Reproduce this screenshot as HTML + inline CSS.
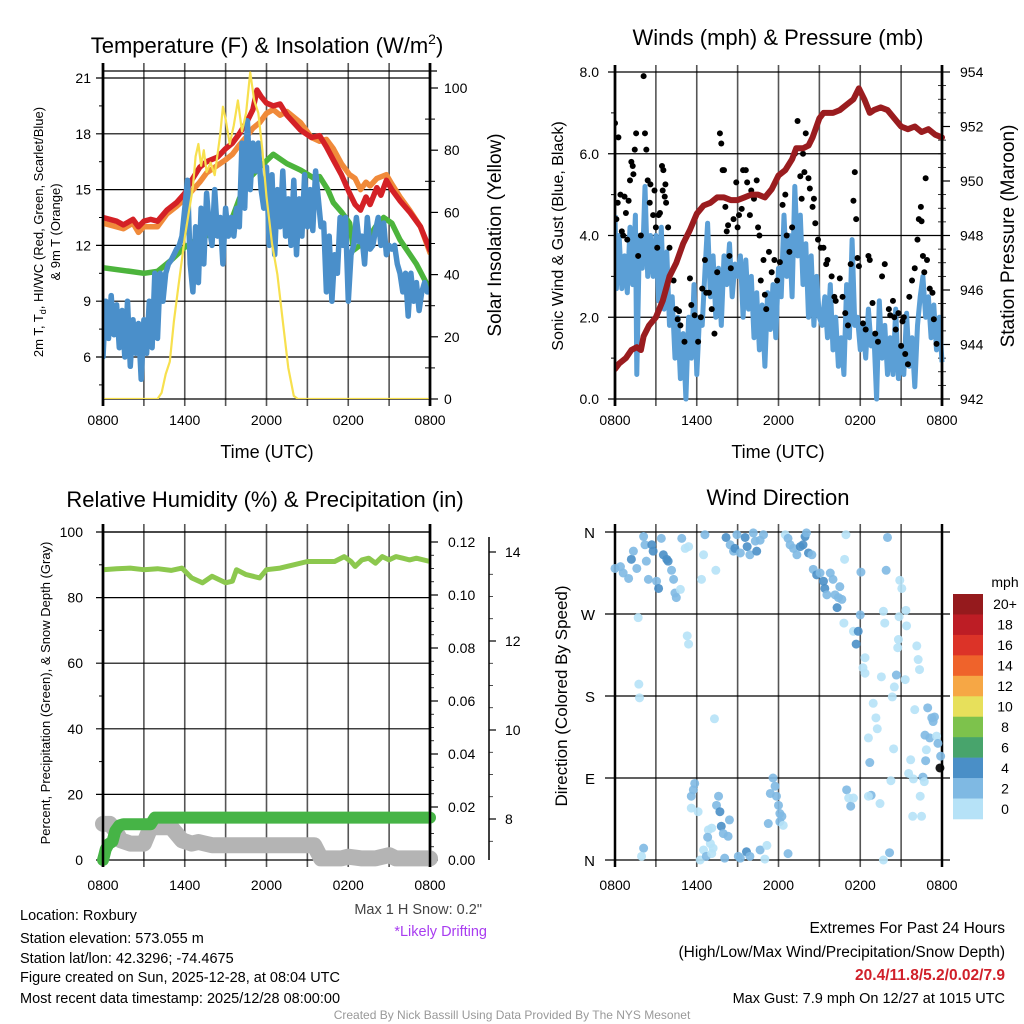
<!DOCTYPE html>
<html><head><meta charset="utf-8"><style>
body{margin:0;background:#fff}
svg{display:block;font-family:"Liberation Sans",sans-serif}
</style></head><body>
<svg id="c" width="1024" height="1024" viewBox="0 0 1024 1024" xmlns="http://www.w3.org/2000/svg">
<rect width="1024" height="1024" fill="#fff"/>
<g id="layer"></g>
</svg>
<script>
// ---------- DATA ----------
const timeTicks=["0800","1400","2000","0200","0800"];
const tempTicks=[6,9,12,15,18,21];
const insolTicks=[0,20,40,60,80,100];
const windTicks=["0.0","2.0","4.0","6.0","8.0"];
const presTicks=[942,944,946,948,950,952,954];
const rhTicks=[0,20,40,60,80,100];
const precipTicks=["0.00","0.02","0.04","0.06","0.08","0.10","0.12"];
const snowTicks=[8,10,12,14];
const dirTicks=["N","E","S","W","N"];
const cbLabels=["20+","18","16","14","12","10","8","6","4","2","0"];
const cbColors=["#951a1d","#bd1d25","#dc3328","#ef632b","#f6a745","#e7e05b","#7dc24c","#48a46c","#4a8fc7","#7fb9e3","#b6e2f7"];

const redT=[0,1,1.5,2.2,2.6,3,3.5,4,4.7,5.4,6,6.5,7.1,7.6,8.4,9,9.5,10,10.6,11,11.3,11.6,12,12.5,13,13.5,14.5,15.3,15.9,16.4,16.9,17.5,18.1,18.5,18.9,19.3,19.6,20.1,20.4,20.8,21.2,21.8,22.5,23.3,24];
const redV=[13.5,13.3,13.1,13.4,13.0,13.3,13.4,13.3,13.9,14.3,14.8,15.5,16.2,16.5,16.75,17.2,17.5,18.0,18.7,19.3,20.35,20.0,19.65,19.5,19.6,19.0,18.2,17.8,17.9,17.3,16.6,15.8,14.8,14.2,13.9,14.6,14.2,15.1,14.7,15.5,15.0,14.4,13.8,13.0,11.75];
const orgT=[0,1,1.5,2.2,2.6,3,3.5,4,4.7,5.4,6,7.1,7.6,8.4,9,9.5,10,10.6,11,11.5,12,12.5,13,13.5,14.5,15.3,15.9,16.4,16.9,17.5,18.1,18.5,18.9,19.3,19.6,20.1,20.8,21.2,21.8,22.5,23.3,24];
const orgV=[13.2,13.0,12.9,13.2,12.7,13.0,13.0,13.0,13.7,14.1,14.5,15.4,15.9,16.3,16.6,16.9,17.4,17.9,18.3,18.6,19.1,19.3,19.0,19.2,18.6,17.8,17.6,17.7,17.2,16.4,15.8,15.6,15.0,15.4,15.2,15.6,15.8,15.3,14.6,13.9,13.0,11.6];
const grnT=[0,2,3,4,5,6,7,8,9,9.5,10,10.6,11.5,12.5,13.5,14.5,15.5,15.9,16.5,16.9,17.5,18.1,18.4,19.4,20.0,20.6,21.2,21.8,23,24];
const grnV=[10.8,10.6,10.5,10.6,11.2,11.9,12.4,12.6,13.4,13.5,14.5,15.5,16.2,16.9,16.4,16.05,15.6,15.7,15.0,14.3,13.8,13.2,11.75,12.3,13.0,13.5,13.2,12.3,11.0,9.6];
const bluT=[0,0.2,0.4,0.6,0.8,1.0,1.2,1.4,1.6,1.8,
 2.0,2.2,2.4,2.6,2.8,3.0,3.2,3.4,3.6,3.8,
 4.0,4.2,4.4,4.6,4.8,5.0,5.2,5.4,5.6,5.8,
 6.0,6.2,6.4,6.6,6.8,7.0,7.2,7.4,7.6,7.8,
 8.0,8.2,8.4,8.6,8.8,9.0,9.2,9.4,9.6,9.8,
 10.0,10.2,10.4,10.6,10.8,11.0,11.2,11.4,11.6,11.8,
 12.0,12.2,12.4,12.6,12.8,13.0,13.2,13.4,13.6,13.8,
 14.0,14.2,14.4,14.6,14.8,15.0,15.2,15.4,15.6,15.8,
 16.0,16.2,16.4,16.6,16.8,17.0,17.2,17.4,17.6,17.8,
 18.0,18.2,18.4,18.6,18.8,19.0,19.2,19.4,19.6,19.8,
 20.0,20.2,20.4,20.6,20.8,21.0,21.2,21.4,21.6,21.8,
 22.0,22.2,22.4,22.6,22.8,23.0,23.2,23.4,23.6,23.8,24.0];
const bluV=[6,9,7,9.3,7.2,8.8,6.5,8.5,6,9,
 5.5,8,6.2,7.8,4.8,8,6.2,9,6.5,10.5,
 7,10.5,9,10.5,11,11.2,11.5,11.8,12,12.5,
 14,15.5,11,9.5,13,10,14,11,14.8,13,
 12,15,12.5,13.5,11,14,12.5,13.5,12.5,14,
 13,17.5,14,18.7,15,17.5,16,17.5,15,14,
 16.2,12,15.8,11.5,15,13,16,12.5,14.5,12,
 15.5,11.5,14.5,12.5,15.8,13,15,12.8,16,14.5,
 13,13.2,9.5,12.5,9,11.5,10.5,13.5,12,13.5,
 9,11.5,12,13.5,12.2,12.5,11,13.5,11.8,12,
 12.8,13.5,12,13.2,11.5,12,11.8,12,11,10.5,
 9.5,10.5,8.2,10.5,9,10,8.5,9.5,10,9.5,9.5];
const solT=[0,4.0,4.3,4.6,4.9,5.2,5.5,5.8,6.0,6.3,6.6,6.8,7.0,7.2,7.4,7.6,7.9,8.2,8.6,8.8,9.0,9.3,9.6,9.9,10.2,10.5,10.8,11.1,11.4,11.7,12.0,12.4,12.8,13.2,13.6,14.0,14.3,24];
const solV=[0,0,2,8,12,25,35,45,52,60,68,78,82,75,80,73,76,72,85,94,90,82,88,96,86,92,105,96,92,80,65,50,40,25,10,1,0,0];

const spdT=[0,0.1,0.3,0.5,0.7,0.9,1.1,1.3,1.5,1.6,1.8,2.0,2.2,2.4,2.6,2.8,3.0,3.2,3.4,3.6,3.8,4.0,4.2,4.4,4.6,4.8,5.0,5.2,5.4,5.6,5.8,6.0,6.2,6.4,6.6,6.8,7.0,7.2,7.4,7.6,7.8,8.0,8.2,8.4,8.6,8.8,9.0,9.2,9.4,9.6,9.8,10.0,10.2,10.4,10.6,10.8,11.0,11.2,11.4,11.6,11.8,12.0,12.2,12.4,12.6,12.8,13.0,13.2,13.4,13.6,13.8,14.0,14.2,14.4,14.6,14.8,15.0,15.2,15.4,15.6,15.8,16.0,16.2,16.4,16.6,16.8,17.0,17.2,17.4,17.6,17.8,18.0,18.2,18.4,18.6,18.8,19.0,19.2,19.4,19.6,19.8,20.0,20.2,20.4,20.6,20.8,21.0,21.2,21.4,21.6,21.8,22.0,22.2,22.4,22.6,22.8,23.0,23.2,23.4,23.6,23.8,24.0];
const spdV=[4.5,2.7,4.0,2.7,3.5,2.6,4.2,2.8,4.5,0.6,4.0,3.2,5.2,3.0,4.0,3.0,4.0,2.4,4.2,2.2,3.6,1.8,2.5,1.0,2.0,0.5,1.6,0.0,2.0,1.0,2.8,0.6,2.0,1.8,3.1,4.3,2.5,3.5,2.0,3.2,1.8,3.5,2.8,3.8,2.5,3.3,3.0,3.5,2.0,3.4,2.2,3.0,1.5,2.6,1.2,2.3,0.8,2.6,1.7,2.8,1.5,3.2,2.5,4.5,3.0,4.0,2.5,5.2,3.5,4.5,2.8,3.8,2.0,3.5,1.8,3.0,2.0,1.8,2.5,1.5,2.8,1.2,2.0,0.8,1.5,0.6,2.8,1.5,3.9,1.8,2.0,1.2,1.8,1.0,2.2,1.3,1.6,0.0,2.4,1.0,1.8,0.6,1.5,0.6,2.2,0.5,1.2,0.6,2.1,0.8,1.5,0.3,1.8,2.5,3.0,2.0,2.5,1.5,2.3,1.2,2.0,0.9];
const gustT=[0,0.1,0.2,0.25,0.4,0.5,0.6,0.7,0.8,0.9,1.0,1.1,1.2,1.3,1.35,1.45,1.55,1.7,1.9,2.1,2.2,2.3,2.4,2.55,2.6,2.8,2.9,3.0,3.1,3.2,3.3,3.45,3.5,3.55,3.65,3.7,3.75,3.9,4.0,4.3,4.5,4.6,4.7,4.8,5.1,5.5,5.6,5.85,6.1,6.3,6.4,6.6,6.7,6.9,7.1,7.3,7.5,7.7,7.8,7.9,8.0,8.1,8.2,8.3,8.4,8.5,8.7,8.9,9.0,9.1,9.3,9.4,9.6,9.7,9.9,10.0,10.2,10.4,10.5,10.6,10.7,10.9,11.0,11.1,11.3,11.5,11.7,11.9,12.1,12.3,12.5,12.6,12.8,13.0,13.2,13.4,13.6,13.7,13.8,13.9,14.0,14.2,14.3,14.5,14.6,14.7,14.9,15.1,15.3,15.5,15.6,15.9,16.1,16.2,16.5,16.7,16.9,17.1,17.3,17.5,17.6,17.7,17.8,17.9,18.2,18.4,18.6,18.7,18.9,19.1,19.3,19.6,19.8,20.1,20.2,20.4,20.5,20.6,20.8,21.0,21.1,21.2,21.3,21.5,21.6,21.8,22.0,22.2,22.3,22.45,22.5,22.6,22.7,22.8,22.9,23.1,23.3,23.4,23.6];
const gustV=[6.75,4.4,4.8,6.4,5.0,4.1,4.0,4.95,4.55,3.9,4.85,5.35,5.8,5.7,5.5,6.1,6.5,3.5,4.0,7.9,6.5,6.1,5.35,4.8,5.25,4.5,5.1,4.2,3.7,4.5,4.55,5.7,5.1,5.6,4.95,5.25,4.8,4.2,3.7,2.9,2.2,1.95,2.15,1.8,1.4,2.95,2.3,2.05,1.4,2.0,2.7,3.4,2.6,2.6,2.2,1.6,3.1,6.5,6.25,5.6,5.6,4.7,4.1,4.25,3.5,3.2,4.4,5.3,4.2,4.5,4.65,5.6,5.6,5.3,4.5,5.1,4.9,5.35,4.2,4.0,2.9,3.4,2.55,2.2,3.6,3.1,3.4,2.9,3.35,4.75,5.0,4.0,3.6,4.2,6.0,6.8,5.45,4.9,6.0,5.55,6.5,5.4,5.15,4.7,4.9,4.3,3.9,3.7,3.7,3.3,3.4,3.0,2.5,2.4,2.95,2.5,2.1,1.8,3.3,4.85,5.55,4.4,3.45,3.25,1.85,1.7,3.5,3.4,2.35,1.6,1.4,3.0,3.3,2.2,2.05,2.4,2.0,1.7,2.1,1.3,1.9,2.0,1.1,0.85,2.5,2.9,3.2,3.9,4.4,4.7,4.35,3.5,3.1,5.4,3.4,2.7,2.6,1.95,1.35];
const presT=[0,0.3,0.8,1.2,1.6,1.9,2.1,2.5,3.0,3.5,4.0,4.5,5.0,5.5,6.0,6.5,7.0,7.5,8.0,8.5,9.0,9.5,10.0,10.5,11.0,11.5,12.0,12.5,13.0,13.3,13.8,14.2,14.5,15.0,15.3,16.0,16.5,17.0,17.5,17.9,18.3,18.7,19.0,19.5,20.0,20.5,21.0,21.5,22.0,22.5,23.0,23.5,24.0];
const presV=[943.1,943.3,943.5,943.8,943.9,943.8,944.3,944.7,945.0,945.6,946.5,947.0,947.7,948.2,948.8,949.1,949.2,949.4,949.4,949.3,949.3,949.4,949.5,949.5,949.4,949.7,950.2,950.4,950.8,951.2,951.2,951.3,951.6,952.3,952.5,952.5,952.6,952.8,953.0,953.4,953.0,952.5,952.6,952.7,952.6,952.3,952.0,951.9,952.0,951.8,951.9,951.7,951.6];

const rhT=[0,1,2,3,4,5,5.8,6.5,7.3,8,9,9.5,9.8,10.5,11.5,12,13,14,15,16,17,17.7,18.2,18.5,19,19.5,20,20.5,21,21.5,22,22.5,23,24];
const rhV=[88.5,88.8,89,88.5,88.8,88.3,89,86,84.5,86.5,84.5,85,88.5,87,86,88.5,89,90,91,91,91,92.5,91,89.5,91.5,92,90.5,92.5,91.5,92.5,92,91.5,92,91];
const prT=[0,0.1,0.2,0.4,0.7,0.9,1.2,1.5,3.5,3.8,24];
const prV=[0,0.002,0.004,0.006,0.007,0.011,0.013,0.0135,0.0135,0.016,0.016];
const snT=[0,0.5,0.9,1.3,2,3,3.5,4,5,5.8,6.5,7,7.5,8,15.5,16,17.5,18,19,20,21,21.5,24];
const snV=[11,11,9,6,5,5,10,10,10,6,5,5.5,5,4.5,4.5,0.5,0.5,1,0.5,0.5,1.5,0.5,0.5];

const dirT=[0,0.4,0.6,1.0,1.2,1.35,1.6,2.1,2.2,2.3,2.45,2.7,2.8,3.05,3.2,3.4,3.55,3.8,3.9,4.15,4.3,4.4,4.5,4.8,4.9,5.15,5.4,1.7,1.75,1.8,5.3,5.4,2.1,1.95,6.35,6.5,6.6,7.4,7.3,5.6,5.75,5.85,5.6,6.1,6.25,6.5,6.7,6.85,7.1,7.0,7.2,7.1,6.8,7.45,7.6,7.7,7.8,7.95,8.3,8.4,8.05,8.15,8.45,8.7,8.8,8.95,9.2,9.55,9.7,9.9,10.15,10.3,10.4,10.65,10.9,9.05,9.2,9.65,9.9,10.65,11.0,11.15,11.25,11.4,11.6,11.75,11.85,12.0,12.1,12.25,12.1,12.35,12.7,12.5,12.7,12.85,13.1,13.35,13.6,13.8,13.95,14.05,14.2,14.45,14.55,14.8,15.05,15.3,15.4,15.55,15.8,16.0,16.15,16.4,16.65,16.3,16.5,16.8,16.95,16.85,17.5,17.85,17.7,18.0,18.05,18.35,18.2,18.35,17.0,17.15,17.3,17.5,18.7,18.8,18.6,18.95,19.15,19.25,18.6,19.45,19.55,19.7,19.8,19.9,20.0,19.7,20.15,20.25,20.45,20.35,20.5,20.65,20.75,20.8,20.9,21.05,20.85,21.35,21.4,21.3,21.55,21.7,21.9,21.85,22.0,22.15,22.25,22.35,22.4,22.5,22.6,22.7,22.75,22.85,22.8,22.95,23.1,23.25,23.35,23.45,23.6,23.7,23.9,23.85];
const dirV=[320,322,315,309,330,339,320,355,346,328,308,346,339,306,298,353,335,330,328,318,308,293,288,297,353,342,344,266,193,178,246,237,13,4,308,335,357,318,155,70,77,84,57,53,0,11,4,33,35,18,13,7,25,60,70,53,37,29,26,44,2,354,346,339,342,357,337,354,344,335,359,350,339,351,357,4,2,9,4,11,1,16,40,73,90,81,70,60,51,48,42,38,7,357,353,346,342,335,344,346,355,359,337,335,319,313,315,306,298,291,315,308,291,288,286,277,300,260,357,330,251,251,237,269,316,222,211,205,77,68,59,68,107,71,70,172,156,144,134,62,201,273,260,318,354,0,8,87,122,179,190,203,233,242,307,298,267,274,257,198,95,110,89,48,165,235,220,209,70,48,91,86,137,121,109,167,134,156,152,157,136,128,114,101];
const dirS=[3,3,3,3,4.5,3,3,3,3,3,3,4.5,4.5,3,4.5,3,4.5,4.5,4.5,3,3,3,3,1,3,1,1,1,1,1,1,1,3,1,1,1,3,1,1,3,3,3,1,1,1,1,3,1,1,1,1,1,3,3,3,4.5,4.5,3,3,3,3,4.5,3,3,4.5,3,3,4.5,4.5,3,3,3,4.5,3,3,3,3,4.5,3,3,1,1,3,3,3,3,3,3,3,3,3,1,3,1,3,3,3,3,4.5,4.5,4.5,3,4.5,3,3,4.5,3,4.5,4.5,3,3,3,3,3,3,4.5,3,1,1,1,1,4.5,4.5,3,3,1,1,1,3,1,3,1,3,3,1,1,1,1,1,1,1,1,1,3,3,1,3,1,1,1,1,3,1,1,1,1,1,1,1,1,1,1,1,1,1,1,1,1,1,1,3,1,3,1,3,3,3,3,3,3,1,3,3];

// ---------- HELPERS ----------
const NS="http://www.w3.org/2000/svg";
const L=document.getElementById('layer');
function el(tag,attrs,parent){const e=document.createElementNS(NS,tag);for(const k in attrs)e.setAttribute(k,attrs[k]);(parent||L).appendChild(e);return e;}
function txt(s,x,y,size,anchor,extra){const t=el('text',Object.assign({x:x,y:y,'font-size':size,'text-anchor':anchor||'middle',fill:'#000'},extra||{}));t.textContent=s;return t;}
function scale(d0,d1,r0,r1){return v=>r0+(v-d0)/(d1-d0)*(r1-r0);}
function pathFrom(ts,vs,sx,sy){return ts.map((t,i)=>(i?'L':'M')+sx(t).toFixed(1)+','+sy(vs[i]).toFixed(1)).join('');}
function speedColor(s){const i=Math.min(10,Math.floor(s/2));return cbColors[10-i];}

const X0=103,X1=430,RX0=615,RX1=942;
function frame(x0,x1,yTop,yBot,gridTop,name){
  const g=el('g',{});
  
  
  const sx=scale(0,24,x0,x1);
  for(let h=0;h<=24;h+=3){el('line',{x1:sx(h),x2:sx(h),y1:gridTop,y2:yBot+7,stroke:h%24===0?'#000':'#555','stroke-width':h%24===0?2.5:1.6},g);}
  return sx;
}
function xLabels(sx,y,name){timeTicks.forEach((s,i)=>{const t=txt(s,sx(i*6),y,14);});}

// ---------- PANEL 1: Temperature ----------
(function(){
  const sx=frame(X0,X1,71,399,63,'temp');
  const sy=scale(6,21,357,78), si=scale(0,100,399,88);
  el('line',{x1:X0,x2:X1+7,y1:71,y2:71,stroke:'#000','stroke-width':1.2});
  tempTicks.forEach(v=>{el('line',{x1:X0-7,x2:X1,y1:sy(v),y2:sy(v),stroke:'#000','stroke-width':1.2});const t=txt(String(v),X0-12,sy(v)+5,14,'end');});
  for(let v=4.5;v<21;v+=3){el('line',{x1:X0-4,x2:X0,y1:sy(v),y2:sy(v),stroke:'#000'});}
  insolTicks.forEach(v=>{el('line',{x1:X1,x2:X1+8,y1:si(v),y2:si(v),stroke:'#000','stroke-width':1.2});const t=txt(String(v),X1+14,si(v)+5,14,'start');});
  for(let v=10;v<=100;v+=20){el('line',{x1:X1-5,x2:X1+5,y1:si(v),y2:si(v),stroke:'#000'});}
  el('line',{x1:X0,x2:X1,y1:399,y2:399,stroke:'#000','stroke-width':1.2});
  const cp=el('clipPath',{id:'cp1'});el('rect',{x:X0,y:71,width:X1-X0,height:328},cp);
  const G=el('g',{'clip-path':'url(#cp1)'});
  const specs=[['orange-9m-temp-line',orgT,orgV,'#f08a3a'],['red-temp-line',redT,redV,'#d42126'],['green-dewpoint-line',grnT,grnV,'#4cb43c'],['blue-windchill-line',bluT,bluV,'#4a8fca']];
  specs.forEach(s=>{const p=el('path',{d:pathFrom(s[1],s[2],sx,sy),fill:'none',stroke:s[3],'stroke-width':5.5,'stroke-linejoin':'round','stroke-linecap':'round'},G);});
  const ys=el('path',{d:pathFrom(solT,solV,sx,si),fill:'none',stroke:'#f7e04e','stroke-width':2.2,'stroke-linejoin':'round'},G);
  
  el('line',{x1:X0,x2:X0,y1:63,y2:406,stroke:'#000','stroke-width':2.5});
  el('line',{x1:X1,x2:X1,y1:63,y2:406,stroke:'#000','stroke-width':2.5});
  xLabels(sx,425,'temp');
  const t=el('text',{x:267,y:53,'font-size':22,'text-anchor':'middle'});
  t.innerHTML='Temperature (F) &amp; Insolation (W/m<tspan dy="-9" font-size="14">2</tspan><tspan dy="9">)</tspan>';
  let a=txt('Time (UTC)',267,458,18);
  let b=el('text',{x:0,y:0,'font-size':13,'text-anchor':'middle',transform:'translate(43,232) rotate(-90)'});
  b.innerHTML='2m T, T<tspan dy="3" font-size="9">d</tspan><tspan dy="-3">, HI/WC (Red, Green, Scarlet/Blue)</tspan>';
  let b2=el('text',{x:0,y:0,'font-size':13,'text-anchor':'middle',transform:'translate(60,232) rotate(-90)'});b2.textContent='& 9m T (Orange)';
  let c=el('text',{x:0,y:0,'font-size':19,'text-anchor':'middle',transform:'translate(501,235) rotate(-90)'});c.textContent='Solar Insolation (Yellow)';
})();

// ---------- PANEL 2: Winds ----------
(function(){
  const sx=frame(RX0,RX1,72,399,65,'wind');
  const sy=scale(0,8,399,72), sp=scale(942,954,399,72);
  windTicks.forEach((s,i)=>{const v=i*2;el('line',{x1:RX0-7,x2:RX1,y1:sy(v),y2:sy(v),stroke:'#000','stroke-width':1.2});const t=txt(s,RX0-16,sy(v)+5,14,'end');});
  for(let v=1;v<8;v+=2){el('line',{x1:RX0-4,x2:RX0,y1:sy(v),y2:sy(v),stroke:'#000'});}
  presTicks.forEach(v=>{el('line',{x1:RX1,x2:RX1+8,y1:sp(v),y2:sp(v),stroke:'#000','stroke-width':1.2});const t=txt(String(v),RX1+18,sp(v)+5,14,'start');});
  for(let v=942.5;v<954;v+=0.5){if(v%2)el('line',{x1:RX1-4,x2:RX1+4,y1:sp(v),y2:sp(v),stroke:'#000','stroke-width':0.8});}
  const cp=el('clipPath',{id:'cp2'});el('rect',{x:RX0,y:65,width:RX1-RX0+4,height:338},cp);
  const G=el('g',{'clip-path':'url(#cp2)'});
  const bl=el('path',{d:pathFrom(spdT,spdV,sx,sy),fill:'none',stroke:'#5b9fd6','stroke-width':5,'stroke-linejoin':'round'},G);
  
  gustT.forEach((t,i)=>{const c=el('circle',{cx:sx(t),cy:sy(gustV[i]),r:3,fill:'#000'},G);
    
    });
  const pr=el('path',{d:pathFrom(presT,presV,sx,sp),fill:'none',stroke:'#9a1c1f','stroke-width':6,'stroke-linejoin':'round','stroke-linecap':'round'},G);
  
  el('line',{x1:RX0,x2:RX0,y1:65,y2:406,stroke:'#000','stroke-width':2.5});
  el('line',{x1:RX1,x2:RX1,y1:65,y2:406,stroke:'#000','stroke-width':2.5});
  xLabels(sx,425,'wind');
  let t=txt('Winds (mph) & Pressure (mb)',778,45,22);
  let a=txt('Time (UTC)',778,458,18);
  let b=el('text',{x:0,y:0,'font-size':16,'text-anchor':'middle',transform:'translate(563,236) rotate(-90)'});b.textContent='Sonic Wind & Gust (Blue, Black)';
  let c=el('text',{x:0,y:0,'font-size':19,'text-anchor':'middle',transform:'translate(1014,236) rotate(-90)'});c.textContent='Station Pressure (Maroon)';
})();

// ---------- PANEL 3: RH ----------
(function(){
  const sx=frame(X0,X1,532,860,524,'rh');
  const sy=scale(0,100,860,532), spp=scale(0,0.12,860,542), ss=scale(8,14,819,552);
  rhTicks.forEach(v=>{el('line',{x1:X0-7,x2:X1,y1:sy(v),y2:sy(v),stroke:'#000','stroke-width':1.2});const t=txt(String(v),X0-20,sy(v)+5,14,'end');});
  for(let v=10;v<100;v+=20){el('line',{x1:X0-4,x2:X0,y1:sy(v),y2:sy(v),stroke:'#000'});}
  precipTicks.forEach((s,i)=>{const v=i*0.02;el('line',{x1:X1,x2:X1+8,y1:spp(v),y2:spp(v),stroke:'#000','stroke-width':1.2});const t=txt(s,X1+18,spp(v)+5,14,'start');});
  for(let v=0.005;v<0.12;v+=0.005){el('line',{x1:X1,x2:X1+4,y1:spp(v),y2:spp(v),stroke:'#000','stroke-width':0.8});}
  el('line',{x1:489,x2:489,y1:537,y2:860,stroke:'#000','stroke-width':1.5});
  snowTicks.forEach(v=>{el('line',{x1:489,x2:496,y1:ss(v),y2:ss(v),stroke:'#000','stroke-width':1.2});const t=txt(String(v),505,ss(v)+5,14,'start');});
  for(let v=7.5;v<15;v+=0.5){if(ss(v)>537)el('line',{x1:489,x2:493,y1:ss(v),y2:ss(v),stroke:'#000','stroke-width':0.7});}
  el('line',{x1:X0,x2:X1,y1:532,y2:532,stroke:'#000','stroke-width':1.2});
  const sn=el('path',{d:pathFrom(snT,snV,sx,sy),fill:'none',stroke:'#b4b4b4','stroke-width':16,'stroke-linejoin':'round','stroke-linecap':'round'});
  
  const pp=el('path',{d:pathFrom(prT,prV,sx,spp),fill:'none',stroke:'#46b446','stroke-width':12,'stroke-linejoin':'round','stroke-linecap':'round'});
  
  const rh=el('path',{d:pathFrom(rhT,rhV,sx,sy),fill:'none',stroke:'#8cc84e','stroke-width':5,'stroke-linejoin':'round'});
  
  el('line',{x1:X0,x2:X0,y1:524,y2:867,stroke:'#000','stroke-width':2.5});
  el('line',{x1:X1,x2:X1,y1:524,y2:867,stroke:'#000','stroke-width':2.5});
  xLabels(sx,890,'rh');
  let t=txt('Relative Humidity (%) & Precipitation (in)',265,507,22);
  let b=el('text',{x:0,y:0,'font-size':13,'text-anchor':'middle',transform:'translate(50,693) rotate(-90)'});b.textContent='Percent, Precipitation (Green), & Snow Depth (Gray)';
})();

// ---------- PANEL 4: Wind direction ----------
(function(){
  const sx=frame(RX0,RX1,532,860,524,'dir');
  const sy=scale(0,360,860,532);
  dirTicks.forEach((s,i)=>{const v=i*90;el('line',{x1:RX0-10,x2:RX1+8,y1:sy(v),y2:sy(v),stroke:'#000','stroke-width':1.2});const t=txt(s,RX0-20,sy(v)+6,15,'end');});
  dirT.forEach((t,i)=>{const c=el('circle',{cx:sx(t),cy:sy(dirV[i]),r:4.5,fill:speedColor(dirS[i]),'fill-opacity':0.9});
    
    });
  xLabels(sx,890,'dir');
  let t=txt('Wind Direction',778,505,22);
  let b=el('text',{x:0,y:0,'font-size':17,'text-anchor':'middle',transform:'translate(567,696) rotate(-90)'});b.textContent='Direction (Colored By Speed)';
  const cb=el('g',{});
  const h=(819-594)/11;
  cbColors.forEach((c,i)=>{el('rect',{x:953,y:594+i*h,width:30,height:h+0.3,fill:c},cb);const tt=txt(cbLabels[i],1005,594+i*h+h/2+5,14,'middle');});
  let m=txt('mph',1005,587,14);
})();

// ---------- FOOTER ----------
const leftInfo=["Location: Roxbury","Station elevation: 573.055 m","Station lat/lon: 42.3296; -74.4675","Figure created on Sun, 2025-12-28, at 08:04 UTC","Most recent data timestamp: 2025/12/28 08:00:00"];
const leftY=[920,943,963,982,1003];
leftInfo.forEach((s,i)=>{const t=txt(s,20,leftY[i],14.5,'start');});
let f1=txt('Max 1 H Snow: 0.2"',482,914,14.5,'end',{fill:'#444'});
let f2=txt('*Likely Drifting',487,936,14.5,'end',{fill:'#a83cf0'});
let f3=txt('Extremes For Past 24 Hours',1005,933,15.5,'end');
let f4=txt('(High/Low/Max Wind/Precipitation/Snow Depth)',1005,957,15.5,'end');
let f5=txt('20.4/11.8/5.2/0.02/7.9',1005,980,15.5,'end',{fill:'#d0202a','font-weight':'bold'});
let f6=txt('Max Gust: 7.9 mph On 12/27 at 1015 UTC',1005,1003,14.5,'end');
let f7=txt('Created By Nick Bassill Using Data Provided By The NYS Mesonet',512,1019,12,'middle',{fill:'#999'});
</script>
</body></html>
